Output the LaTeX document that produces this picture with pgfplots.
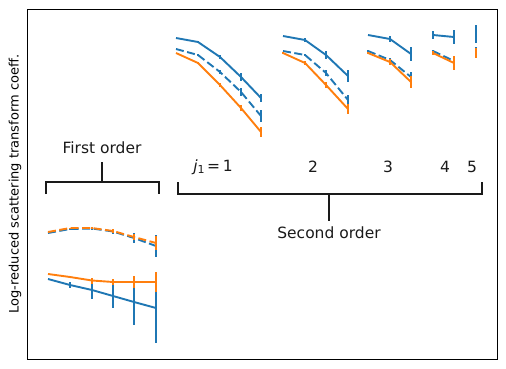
\documentclass[border=0pt]{standalone}
\usepackage{fontspec}
\setmainfont{DejaVu Sans}
\usepackage{pgfplots}
\pgfplotsset{compat=1.18}
\definecolor{C0}{HTML}{1F77B4}
\definecolor{C1}{HTML}{FF7F0E}
\definecolor{Ink}{HTML}{1A1A1A}
\pgfplotsset{
  eb/.style={
    error bars/.cd, y dir=both, y explicit, error mark=none,
    error bar style={line width=1.9pt, solid}},
  sBlue/.style={C0, line width=1.9pt, eb},
  sBdash/.style={C0, line width=1.9pt, dash pattern=on 8pt off 3.5pt, eb},
  sOrng/.style={C1, line width=1.9pt, eb},
  sOdash/.style={C1, line width=1.9pt, dash pattern=on 8pt off 3.5pt, eb},
}
\newcommand{\lab}[1]{\fontsize{15.5}{18}\selectfont #1}
\begin{document}
\begin{tikzpicture}
\begin{axis}[
  scale only axis, width=470pt, height=350pt,
  xmin=27, xmax=497, ymin=9, ymax=359, y dir=reverse,
  xtick=\empty, ytick=\empty,
  axis line style={line width=0.9pt, black},
  clip=false,
]
% bounding box of the whole figure (pixel frame)
\path (axis cs:0,0) rectangle (axis cs:506,369);

% ---- first order: blue ----
\addplot[sBlue] coordinates {(48,279)+-(0,0) (70,285)+-(0,3) (92,290)+-(0,8.5) (113,296)+-(0,12) (134,302)+-(0,23) (156,308)+-(0,35)};
\addplot[sBdash] coordinates {(48,233)+-(0,0) (70,229)+-(0,0.5) (92,228.5)+-(0,1.5) (113,231.5)+-(0,2.5) (134,238)+-(0,5) (156,246)+-(0,11)};
% ---- second order: blue ----
\addplot[sBlue] coordinates {(176,38)+-(0,0) (198,42)+-(0,1) (220,57)+-(0,2) (241,77)+-(0,4) (261,98)+-(0,4)};
\addplot[sBdash] coordinates {(176,49)+-(0,0) (198,55)+-(0,1) (220,72)+-(0,2) (241,92)+-(0,4) (261,116)+-(0,6)};
\addplot[sBlue] coordinates {(283,36)+-(0,0) (305,40)+-(0,2) (326,55)+-(0,4) (348,76)+-(0,6)};
\addplot[sBdash] coordinates {(283,51)+-(0,0) (305,55)+-(0,1) (326,73)+-(0,3) (348,100)+-(0,5)};
\addplot[sBlue] coordinates {(368,35)+-(0,0) (390,39)+-(0,3) (411,54)+-(0,7)};
\addplot[sBdash] coordinates {(368,51)+-(0,1) (390,60)+-(0,2) (411,77)+-(0,5)};
\addplot[sBlue] coordinates {(433,35)+-(0,4) (454,37)+-(0,7)};
\addplot[sBdash] coordinates {(433,51)+-(0,1) (454,61)+-(0,5)};
\addplot[sBlue] coordinates {(476,34)+-(0,9)};
\addplot[sBdash] coordinates {(476,51)+-(0,4)};

% ---- first order: orange ----
\addplot[sOrng] coordinates {(48,274)+-(0,0) (70,277)+-(0,1) (92,280.5)+-(0,3) (113,282)+-(0,3) (134,282)+-(0,6) (156,282)+-(0,10)};
\addplot[sOdash] coordinates {(48,232)+-(0,0) (70,228)+-(0,0.5) (92,228)+-(0,1) (113,231)+-(0,2) (134,237)+-(0,3) (156,243)+-(0,7)};
% ---- second order: orange ----
\addplot[sOrng] coordinates {(176,53)+-(0,0) (198,63)+-(0,1) (220,85)+-(0,2) (241,108)+-(0,3) (261,132)+-(0,5)};
\addplot[sOrng] coordinates {(283,53)+-(0,1) (305,63)+-(0,2) (326,85)+-(0,3) (348,109)+-(0,5)};
\addplot[sOrng] coordinates {(368,53)+-(0,1) (390,62)+-(0,3) (411,82)+-(0,6)};
\addplot[sOrng] coordinates {(433,53)+-(0,2) (454,63)+-(0,7)};
\addplot[sOrng] coordinates {(476,52.5)+-(0,5)};

% ---- annotations ----
\draw[Ink, line width=1.5pt] (axis cs:46,194) -- (axis cs:46,182) -- (axis cs:159,182) -- (axis cs:159,194);
\draw[Ink, line width=1.5pt] (axis cs:102,182) -- (axis cs:102,162);
\node[Ink] at (axis cs:102,148) {\lab{First order}};
\draw[Ink, line width=1.5pt] (axis cs:178,182) -- (axis cs:178,194) -- (axis cs:482,194) -- (axis cs:482,182);
\draw[Ink, line width=1.5pt] (axis cs:329,194) -- (axis cs:329,221);
\node[Ink] at (axis cs:329,233) {\lab{Second order}};
\node[Ink] at (axis cs:213,167) {\lab{\textit{j}\raisebox{-2.5pt}{\fontsize{11}{12}\selectfont 1}\,=\,1}};
\node[Ink] at (axis cs:313,167) {\lab{2}};
\node[Ink] at (axis cs:388,167) {\lab{3}};
\node[Ink] at (axis cs:445,167) {\lab{4}};
\node[Ink] at (axis cs:472,167) {\lab{5}};
\node[black, rotate=90] at (axis cs:15,184) {\fontsize{13}{15}\selectfont Log-reduced scattering transform coeff.};
\end{axis}
\end{tikzpicture}
\end{document}
